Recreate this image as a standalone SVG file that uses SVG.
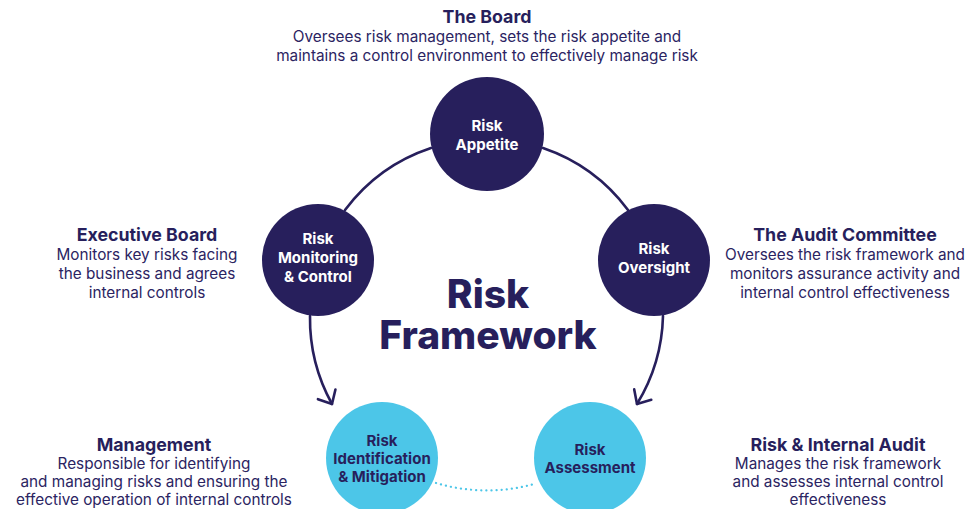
<svg xmlns="http://www.w3.org/2000/svg" width="965" height="509" viewBox="0 0 965 509">
  <style>
    .navy { fill: #271F5C; }
    .sky { fill: #4CC6E8; }
    .arc { fill: none; stroke: #271F5C; stroke-width: 2.6; stroke-linecap: round; }
    .dots { fill: none; stroke: #4CC6E8; stroke-width: 2.2; stroke-linecap: round; stroke-dasharray: 0.1 5; }
    text { font-family: Inter, "Liberation Sans", sans-serif; text-anchor: middle; }
    .head { font-size: 17.8px; font-weight: 700; fill: #271F5C; }
    .body { font-size: 15.3px; font-weight: 400; fill: #2B2462; }
    .lbl-w { font-size: 15px; font-weight: 700; fill: #FFFFFF; }
    .lbl-n { font-size: 15px; font-weight: 700; fill: #271F5C; }
    .title { font-size: 39px; font-weight: 800; fill: #271F5C; }
  </style>
  <defs>
    <marker id="chevron" markerUnits="userSpaceOnUse" viewBox="-14 -12 17 24" refX="0" refY="0" markerWidth="17" markerHeight="24" orient="auto">
      <path d="M-11,-10 L0,0 L-11,10" fill="none" stroke="#271F5C" stroke-width="2.6" stroke-linecap="round" stroke-linejoin="round"/>
    </marker>
  </defs>

  <rect width="965" height="509" fill="#FFFFFF"/>

  <!-- connectors: arcs of the cycle -->
  <g id="connectors">
    <path class="arc" d="M431,148 A177,177 0 0 0 345,210"/>
    <path class="arc" d="M310,316 A177,177 0 0 0 332,404" marker-end="url(#chevron)"/>
    <path class="arc" d="M543,148 A177,177 0 0 1 628,210"/>
    <path class="arc" d="M663,316 A177,177 0 0 1 637,404" marker-end="url(#chevron)"/>
    <path class="dots" d="M436,483 A177,177 0 0 0 534,484"/>
  </g>

  <!-- centre title -->
  <g id="title">
    <text class="title" x="488" y="308">Risk</text>
    <text class="title" x="488" y="349">Framework</text>
  </g>

  <!-- nodes -->
  <g id="risk-appetite">
    <circle class="navy" cx="487" cy="134" r="57"/>
    <text class="lbl-w" x="487" y="131">Risk</text>
    <text class="lbl-w" x="487" y="150">Appetite</text>
  </g>

  <g id="risk-monitoring">
    <circle class="navy" cx="318" cy="260" r="56"/>
    <text class="lbl-w" x="318" y="244">Risk</text>
    <text class="lbl-w" x="318" y="263">Monitoring</text>
    <text class="lbl-w" x="318" y="282">&amp; Control</text>
  </g>

  <g id="risk-oversight">
    <circle class="navy" cx="654" cy="260" r="56"/>
    <text class="lbl-w" x="654" y="254">Risk</text>
    <text class="lbl-w" x="654" y="273">Oversight</text>
  </g>

  <g id="risk-identification">
    <circle class="sky" cx="382" cy="458" r="56"/>
    <text class="lbl-n" x="382" y="446">Risk</text>
    <text class="lbl-n" x="382" y="464">Identification</text>
    <text class="lbl-n" x="382" y="482">&amp; Mitigation</text>
  </g>

  <g id="risk-assessment">
    <circle class="sky" cx="590" cy="458" r="56"/>
    <text class="lbl-n" x="590" y="455">Risk</text>
    <text class="lbl-n" x="590" y="473">Assessment</text>
  </g>

  <!-- role descriptions -->
  <g id="the-board">
    <text class="head" x="487" y="23">The Board</text>
    <text class="body" x="487" y="42">Oversees risk management, sets the risk appetite and</text>
    <text class="body" x="487" y="61">maintains a control environment to effectively manage risk</text>
  </g>

  <g id="executive-board">
    <text class="head" x="147" y="241">Executive Board</text>
    <text class="body" x="147" y="260">Monitors key risks facing</text>
    <text class="body" x="147" y="279">the business and agrees</text>
    <text class="body" x="147" y="298">internal controls</text>
  </g>

  <g id="audit-committee">
    <text class="head" x="845" y="241">The Audit Committee</text>
    <text class="body" x="845" y="260">Oversees the risk framework and</text>
    <text class="body" x="845" y="279">monitors assurance activity and</text>
    <text class="body" x="845" y="298">internal control effectiveness</text>
  </g>

  <g id="management">
    <text class="head" x="154" y="451">Management</text>
    <text class="body" x="154" y="469">Responsible for identifying</text>
    <text class="body" x="154" y="487">and managing risks and ensuring the</text>
    <text class="body" x="154" y="505">effective operation of internal controls</text>
  </g>

  <g id="internal-audit">
    <text class="head" x="838" y="451">Risk &amp; Internal Audit</text>
    <text class="body" x="838" y="469">Manages the risk framework</text>
    <text class="body" x="838" y="487">and assesses internal control</text>
    <text class="body" x="838" y="505">effectiveness</text>
  </g>
</svg>
